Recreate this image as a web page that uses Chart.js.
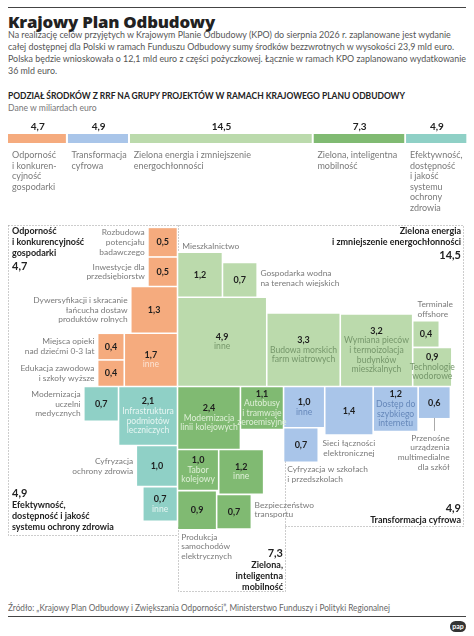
<!DOCTYPE html>
<html lang="pl">
<head>
<meta charset="utf-8">
<script src="https://cdn.jsdelivr.net/npm/chart.js@4/dist/chart.umd.min.js"></script>
<style>
  body { margin: 0; background: #fff; }
  #page { position: relative; width: 474px; height: 636px; overflow: hidden; font-family: Lato, "Open Sans", sans-serif; }
  .rule { position: absolute; left: 8px; width: 458px; height: 1px; background: #444; }
  h1 { position: absolute; left: 8px; top: 10px; margin: 0; font: 800 16.5px "Open Sans", sans-serif; color: #222; letter-spacing: -0.2px; white-space: nowrap; }
  .fit { transform-origin: 0 0; }
  .lead { position: absolute; left: 8px; top: 28px; margin: 0; font-size: 10px; line-height: 12px; color: #555; white-space: nowrap; }
  .sub { position: absolute; left: 8px; top: 90px; font-weight: 700; font-size: 8.8px; color: #222; white-space: nowrap; }
  .unit { position: absolute; left: 8px; top: 103px; font-size: 8.6px; color: #777; }
  canvas { position: absolute; left: 0; }
  #bar { top: 115px; }
  #tree { top: 215px; }
  .source { position: absolute; left: 8px; top: 603px; font-size: 8.6px; color: #666; white-space: nowrap; }
  .logo { position: absolute; left: 450px; top: 621px; width: 16px; height: 11px; border-radius: 6px; background: #333; color: #fff; font: bold 7px Lato, sans-serif; line-height: 11px; text-align: center; }
</style>
</head>
<body>
<div id="page">
  <div class="rule" style="top:7px"></div>
  <h1 class="fit" data-w="207">Krajowy Plan Odbudowy</h1>
  <p class="lead fit" data-w="458">Na realizację celów przyjętych w Krajowym Planie Odbudowy (KPO) do sierpnia 2026 r. zaplanowane jest wydanie<br>całej dostępnej dla Polski w ramach Funduszu Odbudowy sumy środków bezzwrotnych w wysokości 23,9 mld euro.<br>Polska będzie wnioskowała o 12,1 mld euro z części pożyczkowej. Łącznie w ramach KPO zaplanowano wydatkowanie<br>36 mld euro.</p>
  <div class="sub fit" data-w="397">PODZIAŁ ŚRODKÓW Z RRF NA GRUPY PROJEKTÓW W RAMACH KRAJOWEGO PLANU ODBUDOWY</div>
  <div class="unit">Dane w miliardach euro</div>
  <canvas id="bar" width="474" height="100"></canvas>
  <canvas id="tree" width="474" height="385"></canvas>
  <div class="source fit" data-w="382">Źródło: „Krajowy Plan Odbudowy i Zwiększania Odporności”, Ministerstwo Funduszy i Polityki Regionalnej</div>
  <div class="rule" style="top:616px"></div>
  <div class="logo">pap</div>
</div>
<script>
// ---- data (mld euro) ----
const groupTotals = [4.7, 4.9, 14.5, 7.3, 4.9];
const groupBarLabels = [
  ['Odporność', 'i konkuren-', 'cyjność', 'gospodarki'],
  ['Transformacja', 'cyfrowa'],
  ['Zielona energia i zmniejszenie', 'energochłonności'],
  ['Zielona, inteligentna', 'mobilność'],
  ['Efektywność,', 'dostępność', 'i jakość', 'systemu', 'ochrony', 'zdrowia']
];
const groupTitles = [
  ['Odporność', 'i konkurencyjność', 'gospodarki'],
  ['Transformacja cyfrowa'],
  ['Zielona energia', 'i zmniejszenie energochłonności'],
  ['Zielona,', 'inteligentna', 'mobilność'],
  ['Efektywność,', 'dostępność i jakość', 'systemu ochrony zdrowia']
];

const odpornoscLabels = [['Rozbudowa', 'potencjału', 'badawczego'], ['Inwestycje dla', 'przedsiębiorstw'],
  ['Dywersyfikacji i skracanie', 'łańcucha dostaw', 'produktów rolnych'], ['inne'],
  ['Miejsca opieki', 'nad dziećmi 0-3 lat'], ['Edukacja zawodowa', 'i szkoły wyższe']];
const odpornoscValues = [0.5, 0.5, 1.3, 1.7, 0.4, 0.4];

const cyfrowaLabels = [['inne'], ['Sieci łączności', 'elektronicznej'], ['Dostęp do', 'szybkiego', 'internetu'],
  ['Przenośne', 'urządzenia', 'multimedialne', 'dla szkół'], ['Cyfryzacja w szkołach', 'i przedszkolach']];
const cyfrowaValues = [1.0, 1.4, 1.2, 0.6, 0.7];

const energiaLabels = [['Mieszkalnictwo'], ['Gospodarka wodna', 'na terenach wiejskich'], ['inne'],
  ['Budowa morskich', 'farm wiatrowych'], ['Wymiana pieców', 'i termoizolacja', 'budynków', 'mieszkalnych'],
  ['Terminale', 'offshore'], ['Technologie', 'wodorowe']];
const energiaValues = [1.2, 0.7, 4.9, 3.3, 3.2, 0.4, 0.9];

const mobilnoscLabels = [['Modernizacja', 'linii kolejowych'], ['Autobusy', 'i tramwaje', 'zeroemisyjne'],
  ['Tabor', 'kolejowy'], ['inne'], ['Produkcja', 'samochodów', 'elektrycznych'], ['Bezpieczeństwo', 'transportu']];
const mobilnoscValues = [2.4, 1.1, 1.0, 1.2, 0.9, 0.7];

const zdrowieLabels = [['Modernizacja', 'uczelni', 'medycznych'], ['Infrastruktura', 'podmiotów', 'leczniczych'],
  ['Cyfryzacja', 'ochrony zdrowia'], ['inne']];
const zdrowieValues = [0.7, 2.1, 1.0, 0.7];

// ---- styles ----
const FONT = 'Lato, "Open Sans", sans-serif';
const groupColors = ['#F5AB7E', '#A9C5E9', '#BBDAAC', '#80BA72', '#8FD0C6'];
const groupInk = ['#FCE3D3', '#6688BA', '#76976B', '#DDEFD6', '#E6F5F2'];
const GREY = '#7a7a7a';

// squeeze the html text lines to the widths they have in the original
document.querySelectorAll('.fit').forEach(el => {
  const w = el.getBoundingClientRect().width;
  el.style.transform = 'scaleX(' + (+el.dataset.w / w) + ')';
});

// ---- layout: squares of side sqrt(value), placed against each other ----
// rule 'R=L:o3' -> my right edge at left edge of o3 (minus gap); 'c' is the centre cross
const odpornoscLayout = [['R=c', 'B=T:o1', 'left'], ['R=c', 'B=T:o2', 'left'], ['R=c', 'B=T:o3', 'left'],
  ['R=c', 'B=c', 'in'], ['R=L:o3', 'T=T:o3', 'left'], ['R=R:o4', 'T=B:o4', 'left']];
const cyfrowaLayout = [['L=R:m1', 'T=c', 'in'], ['L=R:c0', 'T=c', 'belowC'], ['L=R:c1', 'T=c', 'in'],
  ['L=R:c2', 'T=c', 'leader'], ['L=L:c0', 'T=B:c0', 'below']];
const energiaLayout = [['L=c', 'B=T:e2', 'above'], ['L=R:e0', 'B=B:e0', 'right'], ['L=c', 'B=c', 'in'],
  ['L=R:e2', 'B=c', 'in'], ['L=R:e3', 'B=c', 'in'], ['L=L:e6', 'B=T:e6', 'above'], ['L=R:e4', 'B=c', 'in']];
const mobilnoscLayout = [['L=c', 'T=c', 'in'], ['L=R:m0', 'T=c', 'in'], ['L=c', 'T=B:m0', 'in'],
  ['L=R:m2', 'T=T:m2', 'in'], ['L=c', 'T=B:m2', 'below'], ['L=R:m4', 'T=B:m3', 'right']];
const zdrowieLayout = [['R=L:z1', 'T=c', 'left'], ['R=c', 'T=c', 'in'], ['R=c', 'T=B:z1', 'left'], ['R=c', 'T=B:z2', 'in']];

const cellGroups = [
  { id: 'o', values: odpornoscValues, labels: odpornoscLabels, layout: odpornoscLayout },
  { id: 'c', values: cyfrowaValues, labels: cyfrowaLabels, layout: cyfrowaLayout },
  { id: 'e', values: energiaValues, labels: energiaLabels, layout: energiaLayout },
  { id: 'm', values: mobilnoscValues, labels: mobilnoscLabels, layout: mobilnoscLayout },
  { id: 'z', values: zdrowieValues, labels: zdrowieLabels, layout: zdrowieLayout }
];

const PX = 39.6;            // px per unit of sqrt(mld euro)
const GAP = 0.04;
const CX = 177.5, CY = 171.5; // centre cross on the tree canvas
const TREE_W = 474, TREE_H = 385;

const cellIndex = {};
cellGroups.forEach((g, gi) => g.values.forEach((v, i) => {
  cellIndex[g.id + i] = { v, rule: g.layout[i], gi, i };
}));
const rects = {};
function edgeOf(own, target) {
  if (target === 'c') return (own === 'R' || own === 'B') ? -GAP / 2 : GAP / 2;
  const [side, id] = target.split(':');
  const r = place(id);
  const val = { L: r.x0, R: r.x1, T: r.y0, B: r.y1 }[side];
  if (side === own) return val;
  return (own === 'R' || own === 'B') ? val - GAP : val + GAP;
}
function place(id) {
  if (rects[id]) return rects[id];
  const c = cellIndex[id];
  const s = Math.sqrt(c.v);
  const [hOwn, hT] = c.rule[0].split('=');
  const [vOwn, vT] = c.rule[1].split('=');
  const hx = edgeOf(hOwn, hT), vy = edgeOf(vOwn, vT);
  const x0 = hOwn === 'L' ? hx : hx - s;
  const y0 = vOwn === 'T' ? vy : vy - s;
  rects[id] = { x0, x1: x0 + s, y0, y1: y0 + s };
  return rects[id];
}
Object.keys(cellIndex).forEach(place);

function fmt(v) { return v.toFixed(1).replace('.', ','); }

// ---- stacked bar with group totals ----
const barLabels = {
  id: 'barLabels',
  afterDatasetsDraw(chart) {
    const ctx = chart.ctx;
    ctx.save();
    ctx.textBaseline = 'middle';
    chart.data.datasets.forEach((ds, i) => {
      const bar = chart.getDatasetMeta(i).data[0];
      const left = Math.min(bar.x, bar.base), right = Math.max(bar.x, bar.base);
      ctx.font = 'bold 10px ' + FONT;
      ctx.fillStyle = '#222';
      ctx.textAlign = 'center';
      ctx.fillText(fmt(ds.data[0]), (left + right) / 2, bar.y - bar.height / 2 - 7);
      ctx.font = '9px ' + FONT;
      ctx.fillStyle = GREY;
      ctx.textAlign = 'left';
      groupBarLabels[i].forEach((t, k) => ctx.fillText(t, left + 4, bar.y + bar.height / 2 + 12 + k * 10.6));
    });
    ctx.restore();
  }
};

new Chart(document.getElementById('bar'), {
  type: 'bar',
  data: {
    labels: ['KPO'],
    datasets: groupTotals.map((t, i) => ({
      label: groupTitles[i].join(' '),
      data: [t],
      backgroundColor: groupColors[i],
      borderColor: '#fff',
      borderWidth: { right: 2 },
      barThickness: 9
    }))
  },
  options: {
    indexAxis: 'y', responsive: false, animation: false, events: [],
    layout: { padding: { left: 8, right: 6, top: 0, bottom: 53 } },
    scales: {
      x: { stacked: true, display: false, min: 0, max: groupTotals.reduce((a, b) => a + b, 0) },
      y: { stacked: true, display: false }
    },
    plugins: { legend: { display: false }, tooltip: { enabled: false } }
  },
  plugins: [barLabels]
});

// ---- square map ----
const titleLayout = [
  { x: 12, align: 'left', y: 16.5, totalFirst: false },
  { x: 461, align: 'right', y: 293, totalFirst: true },
  { x: 461, align: 'right', y: 16, totalFirst: false },
  { x: 283, align: 'right', y: 338, totalFirst: true },
  { x: 12, align: 'left', y: 278, totalFirst: true }
];
const dottedPaths = [
  [[8, 10], [463, 10], [463, 311], [285, 311]],
  [[8, 10], [8, 320], [178, 320]],
  [[178, 312], [178, 376], [285, 376], [285, 246]],
  [[178, 10], [178, 37]]
];

function drawLines(ctx, items, x, y, lh, align) {
  ctx.textAlign = align;
  items.forEach((it, k) => {
    ctx.font = it.font;
    ctx.fillStyle = it.color;
    ctx.fillText(it.t, x, y + k * lh);
  });
}

const treeDecor = {
  id: 'treeDecor',
  beforeDatasetsDraw(chart) {
    const ctx = chart.ctx;
    ctx.save();
    ctx.strokeStyle = '#9a9a9a';
    ctx.lineWidth = 1;
    ctx.setLineDash([1, 2]);
    dottedPaths.forEach(p => {
      ctx.beginPath();
      p.forEach(([x, y], k) => k ? ctx.lineTo(x + 0.5, y + 0.5) : ctx.moveTo(x + 0.5, y + 0.5));
      ctx.stroke();
    });
    ctx.restore();
  },
  afterDatasetsDraw(chart) {
    const ctx = chart.ctx, xs = chart.scales.x, ys = chart.scales.y;
    const valFont = 'bold 9px ' + FONT, inFont = '8.6px ' + FONT, outFont = '8.4px ' + FONT;
    const LH = 9.6, OLH = 9.8;
    ctx.save();
    ctx.textBaseline = 'middle';
    cellGroups.forEach((g, gi) => g.values.forEach((v, i) => {
      const r = rects[g.id + i];
      const L = xs.getPixelForValue(r.x0), R = xs.getPixelForValue(r.x1);
      const T = ys.getPixelForValue(r.y0), B = ys.getPixelForValue(r.y1);
      const mx = (L + R) / 2, my = (T + B) / 2;
      const val = { t: fmt(v), font: valFont, color: '#1d1d1d' };
      const pos = g.layout[i][2];
      const out = g.labels[i].map(t => ({ t, font: outFont, color: GREY }));
      if (pos === 'in') {
        const items = [val, ...g.labels[i].map(t => ({ t, font: inFont, color: groupInk[gi] }))];
        drawLines(ctx, items, mx, my - (items.length - 1) * LH / 2, LH, 'center');
        return;
      }
      drawLines(ctx, [val], mx, my, LH, 'center');
      if (pos === 'left') drawLines(ctx, out, L - 4, my - (out.length - 1) * OLH / 2, OLH, 'right');
      if (pos === 'right') drawLines(ctx, out, R + 4, my - 2 - (out.length - 1) * OLH / 2, OLH, 'left');
      if (pos === 'above') drawLines(ctx, out, L + 4, T - 7 - (out.length - 1) * OLH, OLH, 'left');
      if (pos === 'below') drawLines(ctx, out, L + 3, B + 8, OLH, 'left');
      if (pos === 'belowC') drawLines(ctx, out, mx, B + 9, OLH, 'center');
      if (pos === 'leader') {
        ctx.strokeStyle = '#aaa';
        ctx.lineWidth = 1;
        ctx.beginPath();
        ctx.moveTo(Math.round(mx) + 0.5, B);
        ctx.lineTo(Math.round(mx) + 0.5, B + 13);
        ctx.stroke();
        drawLines(ctx, out, R, B + 20, OLH, 'right');
      }
    }));
    // group titles with totals
    titleLayout.forEach((t, gi) => {
      const total = { t: fmt(groupTotals[gi]), font: 'bold 11px ' + FONT, color: '#222' };
      const title = groupTitles[gi].map(s => ({ t: s, font: 'bold 9px ' + FONT, color: '#222' }));
      if (t.totalFirst) {
        drawLines(ctx, [total], t.x, t.y, 12, t.align);
        drawLines(ctx, title, t.x, t.y + 12.5, 10.6, t.align);
      } else {
        drawLines(ctx, title, t.x, t.y, 10.6, t.align);
        drawLines(ctx, [total], t.x, t.y + title.length * 10.6 + 3.5, 12, t.align);
      }
    });
    ctx.restore();
  }
};

new Chart(document.getElementById('tree'), {
  type: 'scatter',
  data: {
    datasets: cellGroups.map((g, gi) => ({
      label: groupTitles[gi].join(' '),
      data: g.values.map((v, i) => {
        const r = rects[g.id + i];
        return { x: (r.x0 + r.x1) / 2, y: (r.y0 + r.y1) / 2, v };
      }),
      backgroundColor: groupColors[gi],
      pointBackgroundColor: groupColors[gi],
      pointStyle: 'rect',
      pointBorderWidth: 0,
      pointRadius: ctx => {
        const xs = ctx.chart.scales.x;
        return (xs.getPixelForValue(Math.sqrt(ctx.raw.v)) - xs.getPixelForValue(0)) / Math.SQRT2;
      },
      clip: false
    }))
  },
  options: {
    responsive: false, animation: false, events: [],
    layout: { padding: 0 },
    scales: {
      x: { type: 'linear', display: false, min: -CX / PX, max: (TREE_W - CX) / PX },
      y: { type: 'linear', display: false, reverse: true, min: -CY / PX, max: (TREE_H - CY) / PX }
    },
    plugins: { legend: { display: false }, tooltip: { enabled: false } }
  },
  plugins: [treeDecor]
});
</script>
</body>
</html>
